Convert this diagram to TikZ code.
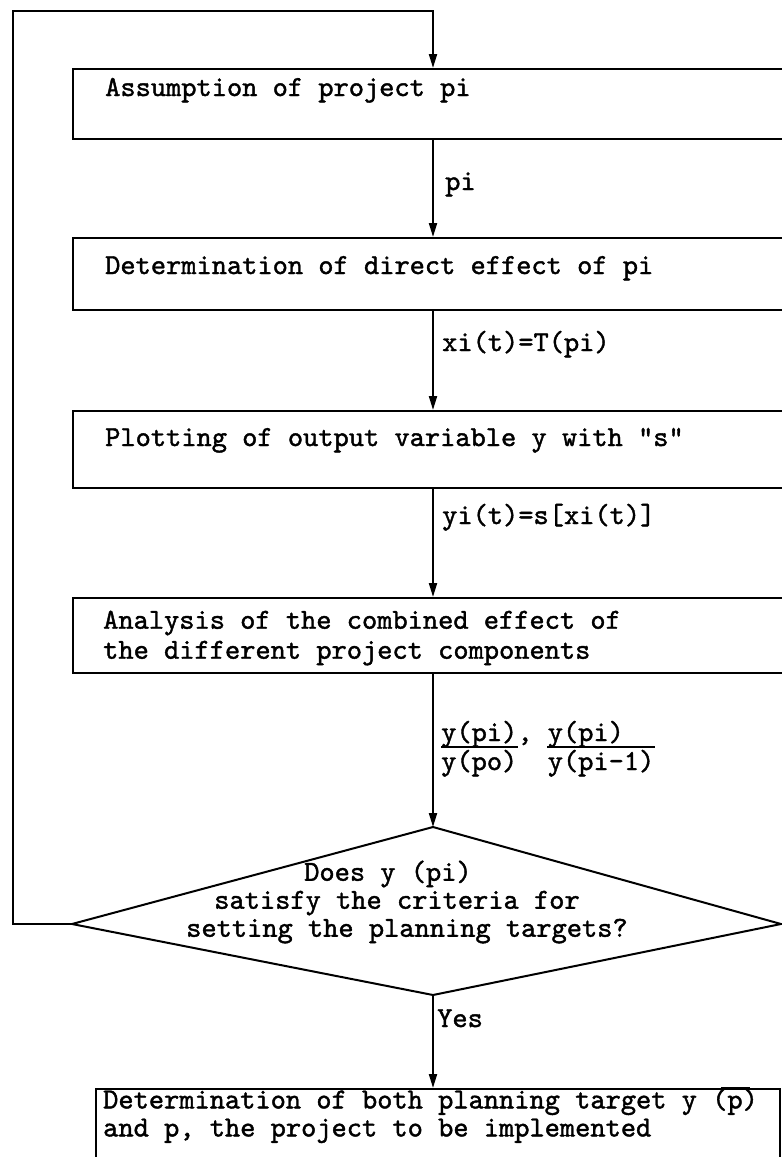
\documentclass[tikz,border=0pt]{standalone}
\usepackage{fontspec}
\usetikzlibrary{arrows.meta,calc}
% typewriter face, slightly emboldened
\newfontfamily\tw{lmmono10-regular}[Extension=.otf, FakeBold=1.4]
\begin{document}
\begin{tikzpicture}[
  x=1pt, y=-1pt,
  frame/.style={draw, line width=2pt, rectangle, inner sep=0pt, anchor=north west},
  tt/.style={font=\fontsize{29}{#1}\selectfont\tw\frenchspacing, inner sep=0pt},
  tt/.default=27,
  line/.style={line width=2pt},
  flow/.style={line width=2pt, -{Triangle[length=14pt,width=8pt]}}
]
% canvas
\useasboundingbox (0,0) rectangle (782,1157);
\fill[white] (0,0) rectangle (782,1157);
\clip (0,0) rectangle (782,1157);

% x position of the vertical flow line
\coordinate (ax) at (433,0);

% process boxes (right sides run past the page edge)
\node[frame, minimum width=740, minimum height=70] (b1) at (72,68) {};
\node[frame, minimum width=740, minimum height=72] (b2) at (72,237) {};
\node[frame, minimum width=740, minimum height=77] (b3) at (72,410) {};
\node[frame, minimum width=740, minimum height=75] (b4) at (72,597) {};
\node[frame, minimum width=684, minimum height=120] (b5) at (95,1088) {};

% box texts
\node[tt, anchor=base west] (t1) at (105,96) {Assumption of project pi};
\node[tt, anchor=base west] (t2) at (105,274) {Determination of direct effect of pi};
\node[tt, anchor=base west] (t3) at (105,446) {Plotting of output variable y with "s"};
\node[tt=30, anchor=west, align=left] (t4) at (103,638)
  {Analysis of the combined effect of\\the different project components};
\node[tt=28, anchor=west, align=left] (t5) at (103,1115)
  {Determination of both planning target y \rlap{\hspace*{0.3em}\rule[0.68em]{1.0em}{0.06em}}(p)\\and p, the project to be implemented};

% decision diamond
\coordinate (dt) at (433,827);
\coordinate (dr) at (781,924);
\coordinate (db) at (433,995);
\coordinate (dl) at (72,924);
\draw[line, line join=miter] (dt) -- (dr) -- (db) -- (dl) -- cycle;
\node[tt=28, align=center] (dq) at (400,902)
  {\hspace*{-24pt}Does y (pi)\\\hspace*{-6pt}satisfy the criteria for\\\hspace*{14pt}setting the planning targets?};

% return loop
\coordinate (lc) at (13,11);
\draw[flow] (dl) -| (lc) -| (b1.north -| ax);

% flow arrows
\draw[flow] (b1.south -| ax) -- (b2.north -| ax);
\draw[flow] (b2.south -| ax) -- (b3.north -| ax);
\draw[flow] (b3.south -| ax) -- (b4.north -| ax);
\draw[flow] (b4.south -| ax) -- (dt);
\draw[flow] (db) -- (b5.north -| ax);

% arrow labels
\node[tt, anchor=base west] (lp) at (445,190) {pi};
\node[tt, anchor=base west] (lx) at (442,351) {xi(t)=T(pi)};
\node[tt, anchor=base west] (ly) at (442,524) {yi(t)=s[xi(t)]};
\node[tt, anchor=base west] (fn) at (441,741) {y(pi), y(pi)};
\node[tt, anchor=base west] (fd) at (441,770) {y(po)\ \ y(pi-1)};
\draw[line] ($(fn.base west)+(0,6)$) -- ++(77,0);
\draw[line] ($(fn.base west)+(106,6)$) -- ++(108,0);
\node[tt, anchor=base west] (lyes) at (437,1027) {Yes};
\end{tikzpicture}
\end{document}
